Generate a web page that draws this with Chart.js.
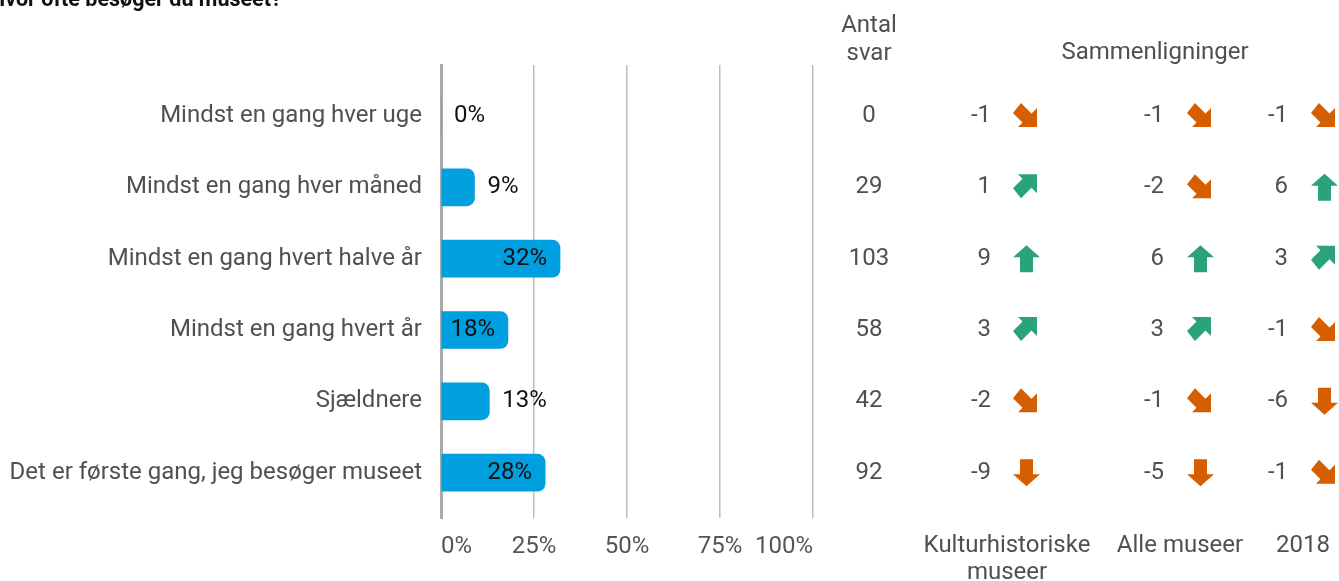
<!DOCTYPE html>
<html>
<head>
<meta charset="utf-8">
<script src="https://cdn.jsdelivr.net/npm/chart.js@4/dist/chart.umd.min.js"></script>
<style>
  html, body { margin: 0; padding: 0; background: #fff; }
  #wrap { width: 1339px; height: 581px; position: relative; }
</style>
</head>
<body>
<div id="wrap"><canvas id="c" width="1339" height="581"></canvas></div>
<script>
// ---------- data ----------
const chartTitle = 'Hvor ofte besøger du museet?';
const categories = [
  'Mindst en gang hver uge',
  'Mindst en gang hver måned',
  'Mindst en gang hvert halve år',
  'Mindst en gang hvert år',
  'Sjældnere',
  'Det er første gang, jeg besøger museet'
];
const shares = [0, 9, 32, 18, 13, 28];
const counts = [0, 29, 103, 58, 42, 92];
const xTicks = [0, 25, 50, 75, 100];
const countHeader = ['Antal', 'svar'];
const compTitle = 'Sammenligninger';
const compHeaders = [['Kulturhistoriske', 'museer'], ['Alle museer'], ['2018']];
const compKultur = [-1, 1, 9, 3, -2, -9];
const compAlle = [-1, -2, 6, 3, -1, -5];
const comp2018 = [-1, 6, 3, -1, -6, -1];
// arrow directions: 'u' up, 'ur' up-right, 'dr' down-right, 'd' down
const arrowKultur = ['dr', 'ur', 'u', 'ur', 'dr', 'd'];
const arrowAlle = ['dr', 'dr', 'u', 'ur', 'dr', 'd'];
const arrow2018 = ['dr', 'u', 'ur', 'dr', 'd', 'dr'];

// ---------- styles / layout ----------
const FONT = 'Roboto, "Noto Sans", sans-serif';
const FS = 24;
const BAR_COLOR = '#009FE0';
const GREEN = '#2AA27A';
const ORANGE = '#D55E00';
const TEXT_GREY = '#505050';
const compCols = [
  { values: compKultur, arrows: arrowKultur, numRight: 991, arrowLeft: 1013, headX: 1007 },
  { values: compAlle, arrows: arrowAlle, numRight: 1164, arrowLeft: 1187, headX: 1180 },
  { values: comp2018, arrows: arrow2018, numRight: 1288, arrowLeft: 1311, headX: 1303 }
];
const countX = 869;

function drawArrow(ctx, dir, left, cy) {
  ctx.save();
  if (dir === 'u' || dir === 'd') {
    ctx.fillStyle = dir === 'u' ? GREEN : ORANGE;
    const h = 27, top = cy - h / 2;
    ctx.translate(left, top);
    if (dir === 'd') { ctx.translate(0, h); ctx.scale(1, -1); }
    ctx.beginPath();
    ctx.moveTo(0, 12); ctx.lineTo(13.5, 0); ctx.lineTo(27, 12);
    ctx.lineTo(20, 12); ctx.lineTo(20, 27); ctx.lineTo(7, 27); ctx.lineTo(7, 12);
    ctx.closePath(); ctx.fill();
  } else {
    ctx.fillStyle = dir === 'ur' ? GREEN : ORANGE;
    const s = 24, top = cy - s / 2 - 1;
    ctx.translate(left, top);
    if (dir === 'ur') { ctx.translate(0, s); ctx.scale(1, -1); }
    ctx.beginPath();
    ctx.moveTo(8, 0); ctx.lineTo(18.5, 10.5); ctx.lineTo(24, 5);
    ctx.lineTo(24, 24); ctx.lineTo(5, 24); ctx.lineTo(9.5, 19.5);
    ctx.lineTo(0, 10);
    ctx.closePath(); ctx.fill();
  }
  ctx.restore();
}

const extrasPlugin = {
  id: 'extras',
  afterDatasetsDraw(chart) {
    const ctx = chart.ctx;
    const y = chart.scales.y;
    const meta = chart.getDatasetMeta(0);
    ctx.save();
    // bar value labels
    ctx.font = FS + 'px ' + FONT;
    ctx.textBaseline = 'middle';
    ctx.fillStyle = '#111';
    meta.data.forEach((bar, i) => {
      const txt = shares[i] + '%';
      const tw = ctx.measureText(txt).width;
      const barW = bar.x - bar.base;
      if (barW >= tw + 19) {
        ctx.textAlign = 'right';
        ctx.fillText(txt, bar.x - 13, bar.y);
      } else {
        ctx.textAlign = 'left';
        ctx.fillText(txt, bar.x + 13, bar.y);
      }
    });
    // counts column
    ctx.fillStyle = TEXT_GREY;
    ctx.textAlign = 'center';
    counts.forEach((v, i) => ctx.fillText(String(v), countX, y.getPixelForValue(i)));
    // comparisons
    compCols.forEach(col => {
      col.values.forEach((v, i) => {
        const cy = y.getPixelForValue(i);
        ctx.fillStyle = TEXT_GREY;
        ctx.textAlign = 'right';
        ctx.textBaseline = 'middle';
        ctx.fillText(String(v), col.numRight, cy);
        drawArrow(ctx, col.arrows[i], col.arrowLeft, cy);
      });
    });
    // headers
    ctx.fillStyle = TEXT_GREY;
    ctx.textAlign = 'center';
    ctx.textBaseline = 'alphabetic';
    ctx.fillText(countHeader[0], countX, 32);
    ctx.fillText(countHeader[1], countX, 60);
    ctx.fillText(compTitle, 1155, 59);
    compCols.forEach((col, k) => {
      compHeaders[k].forEach((line, j) => ctx.fillText(line, col.headX, 552 + j * 27));
    });
    // title (partly cut at top)
    ctx.fillStyle = '#111';
    ctx.font = 'bold 21.5px ' + FONT;
    ctx.textAlign = 'left';
    ctx.fillText(chartTitle, -10, 6);
    ctx.restore();
  }
};

new Chart(document.getElementById('c'), {
  type: 'bar',
  data: {
    datasets: [{
      data: shares.map((v, i) => ({ x: v, y: i })),
      backgroundColor: BAR_COLOR,
      borderRadius: 8,
      borderSkipped: 'start',
      barThickness: 37
    }]
  },
  options: {
    indexAxis: 'y',
    responsive: false,
    animation: false,
    layout: { padding: { left: 0, right: 526, top: 65, bottom: 0 } },
    plugins: { legend: { display: false }, tooltip: { enabled: false } },
    scales: {
      x: {
        type: 'linear',
        min: 0, max: 100,
        afterBuildTicks: s => { s.ticks = xTicks.map(v => ({ value: v })); },
        afterFit: s => { s.height = 63; },
        grid: { color: '#BDBDBD', lineWidth: 1.5, drawTicks: false },
        border: { display: false },
        ticks: {
          align: 'inner',
          padding: 15,
          color: '#555',
          font: { family: FONT, size: FS },
          callback: v => v + '%'
        }
      },
      y: {
        type: 'linear',
        reverse: true,
        offset: false,
        min: -0.715, max: 5.635,
        afterBuildTicks: s => { s.ticks = categories.map((c, i) => ({ value: i })); },
        afterFit: s => { s.width = 441; },
        grid: { display: false, drawTicks: false },
        border: { display: true, color: '#AAAAAA', width: 3 },
        ticks: {
          padding: 19,
          color: TEXT_GREY,
          font: { family: FONT, size: FS },
          callback: v => categories[v]
        }
      }
    }
  },
  plugins: [extrasPlugin]
});
</script>
</body>
</html>
